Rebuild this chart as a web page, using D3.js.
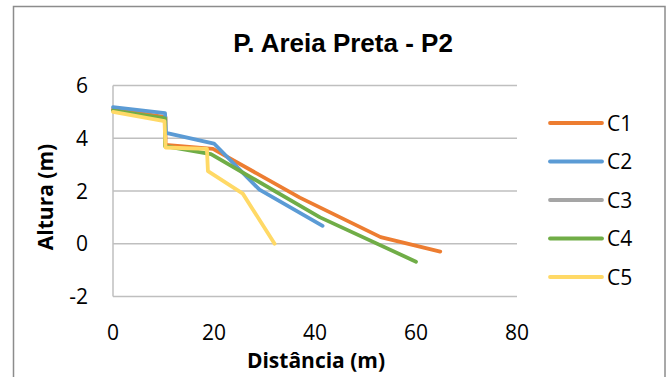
<!DOCTYPE html>
<html><head><meta charset="utf-8">
<script src="https://cdn.jsdelivr.net/npm/d3@7"></script>
<style>body{margin:0;background:#fff}svg{display:block}</style>
</head><body>
<svg id="chart" width="672" height="377"></svg>
<script>
const title = "P. Areia Preta - P2";
const xTicks = [0, 20, 40, 60, 80];
const yTicks = [-2, 0, 2, 4, 6];
const seriesNames = ["C1", "C2", "C3", "C4", "C5"];
const seriesColors = ["#ED7D31", "#5B9BD5", "#A5A5A5", "#70AD47", "#FFD966"];
// [distance, height]
const c1 = [[0, 5.1], [10.4, 4.8], [10.4, 3.75], [19.8, 3.6], [37, 1.75], [53, 0.25], [64.8, -0.3]];
const c2 = [[0, 5.18], [10.3, 4.95], [10.5, 4.2], [20, 3.8], [29, 2.05], [41.5, 0.68]];
const c3 = []; // not visible in the picture (hidden)
const c4 = [[0, 5.05], [10.3, 4.75], [10.3, 3.7], [19.4, 3.4], [41, 1.0], [60, -0.68]];
const c5 = [[0, 5.0], [10.2, 4.65], [10.4, 3.65], [18.6, 3.6], [18.8, 2.75], [25.7, 1.9], [32, 0]];
const seriesData = [c1, c2, c3, c4, c5];

const svg = d3.select("#chart");
// outer frame
svg.append("rect").attr("x", 13.5).attr("y", 6.5).attr("width", 651.5).attr("height", 380)
  .attr("fill", "none").attr("stroke", "#8c8c8c").attr("stroke-width", 1.5);

const x = d3.scaleLinear().domain([0, 80]).range([113, 517]);
const y = d3.scaleLinear().domain([-2, 6]).range([296.5, 85.5]);

// gridlines
svg.append("g").selectAll("line").data(yTicks).join("line")
  .attr("x1", x(0)).attr("x2", x(80)).attr("y1", d => y(d)).attr("y2", d => y(d))
  .attr("stroke", "#bfbfbf").attr("stroke-width", 1.5);
// y axis line
svg.append("line").attr("x1", x(0)).attr("x2", x(0)).attr("y1", y(6)).attr("y2", y(-2))
  .attr("stroke", "#bfbfbf").attr("stroke-width", 1.5);

const font = "'Open Sans', sans-serif";
// y tick labels
svg.append("g").selectAll("text").data(yTicks).join("text")
  .attr("x", 88).attr("y", d => y(d) + 7.5).attr("text-anchor", "end")
  .attr("font-family", font).attr("font-size", 21).attr("fill", "#000")
  .text(d => d);
// x tick labels
svg.append("g").selectAll("text").data(xTicks).join("text")
  .attr("x", d => x(d)).attr("y", 340).attr("text-anchor", "middle")
  .attr("font-family", font).attr("font-size", 21).attr("fill", "#000")
  .text(d => d);

// axis titles
svg.append("text").attr("x", 316).attr("y", 368).attr("text-anchor", "middle")
  .attr("font-family", font).attr("font-size", 21).attr("font-weight", "bold")
  .text("Distância (m)");
svg.append("text").attr("transform", "translate(53,197) rotate(-90)").attr("text-anchor", "middle")
  .attr("font-family", font).attr("font-size", 21).attr("font-weight", "bold")
  .text("Altura (m)");

// title
svg.append("text").attr("x", 343).attr("y", 52).attr("text-anchor", "middle")
  .attr("font-family", "'Liberation Sans', Arial, sans-serif").attr("font-size", 26).attr("font-weight", "bold")
  .text(title);

// lines
const line = d3.line().x(d => x(d[0])).y(d => y(d[1]));
svg.append("g").selectAll("path").data(seriesData).join("path")
  .attr("d", d => d.length ? line(d) : null)
  .attr("fill", "none").attr("stroke", (d, i) => seriesColors[i])
  .attr("stroke-width", 3.8).attr("stroke-linejoin", "round").attr("stroke-linecap", "round");

// legend
const lg = svg.append("g").selectAll("g").data(seriesNames).join("g")
  .attr("transform", (d, i) => `translate(0,${123 + i * 38.5})`);
lg.append("line").attr("x1", 550).attr("x2", 602).attr("y1", 0).attr("y2", 0)
  .attr("stroke", (d, i) => seriesColors[i]).attr("stroke-width", 3.8).attr("stroke-linecap", "round");
lg.append("text").attr("x", 607).attr("y", 7.5).attr("font-family", font).attr("font-size", 21)
  .text(d => d);
</script>
</body></html>
